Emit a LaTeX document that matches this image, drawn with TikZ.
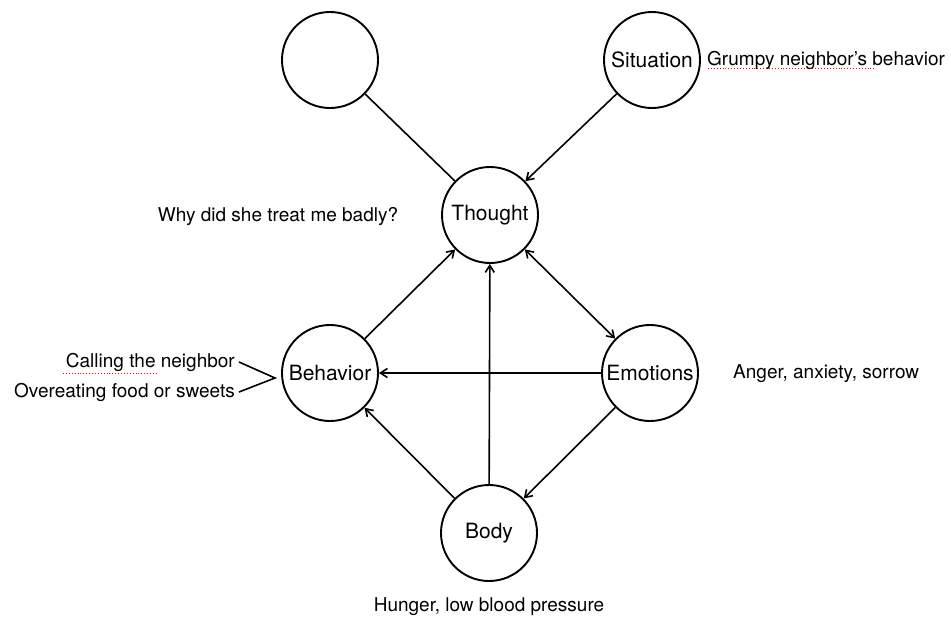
\documentclass[tikz,border=0pt]{standalone}
\usepackage{fontspec}
\setmainfont{TeX Gyre Heros}
\usetikzlibrary{arrows.meta,shadows}

\begin{document}
\begin{tikzpicture}[x=1pt,y=-1pt,
    state/.style={circle,draw,line width=1.9pt,fill=white,minimum size=96pt,inner sep=0pt,
                  font=\fontsize{21}{25}\selectfont,
                  drop shadow={opacity=0.25,shadow xshift=0.8pt,shadow yshift=-0.8pt}},
    note/.style={inner sep=2pt},
    barb/.tip={Straight Barb[length=7pt,width=9pt]},
    link/.style={line width=1.6pt,-barb},
    spell/.style={red,line width=0.9pt,dotted}]
  \useasboundingbox (0,0) rectangle (951,619);
  \fontsize{19}{23}\selectfont
  \node[state] (blank)     at (330,60)  {};
  \node[state] (situation) at (652,60)  {Situation};
  \node[state] (thought)   at (490,215) {Thought};
  \node[state] (behavior)  at (330,373) {Behavior};
  \node[state] (emotions)  at (650,373) {Emotions};
  \node[state] (body)      at (489,533) {Body};
  % connectors
  \draw[line width=1.6pt] (blank) -- (thought);
  \draw[link] (situation) -- (thought);
  \draw[link,barb-barb] (thought) -- (emotions);
  \draw[link] (behavior) -- (thought);
  \draw[link] (body) -- (thought);
  \draw[link] (emotions) -- (behavior);
  \draw[link] (body) -- (behavior);
  \draw[link] (emotions) -- (body);
  % texts
  \node[note,anchor=west]  (grumpy)     at (705,60)  {Grumpy neighbor’s behavior};
  \node[note]              (why)        at (278,217) {Why did she treat me badly?};
  \node[note,anchor=west]  (anger)      at (731,374) {Anger, anxiety, sorrow};
  \node[note]              (hunger)     at (489,607) {Hunger, low blood pressure};
  \node[note,inner xsep=4pt,anchor=east] (calling)    at (239,362) {Calling the neighbor};
  \node[note,inner xsep=4pt,anchor=east] (overeating) at (239,392) {Overeating food or sweets};
  \coordinate (brtip) at (275,378);
  \draw[line width=1.6pt] (calling.east) -- (brtip) -- (overeating.east);
  % spell-check marks
  \draw[spell] (708,68) -- (875,68);
  \draw[spell] (63,373) -- (158,373);
\end{tikzpicture}
\end{document}
